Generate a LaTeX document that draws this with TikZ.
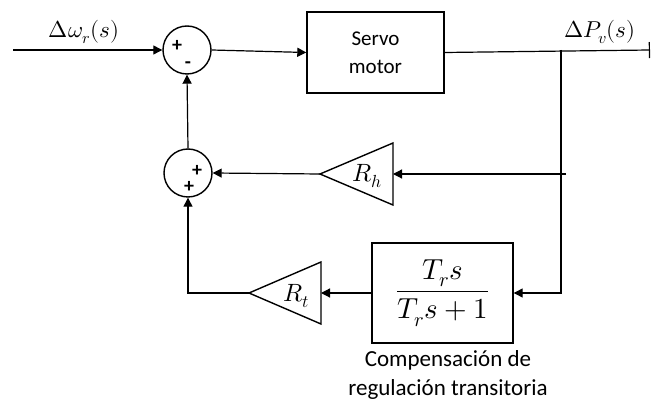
\documentclass[tikz,border=0pt]{standalone}
\usepackage{fontspec}
\usepackage{unicode-math}
\setmainfont{Carlito}
\setmathfont{Latin Modern Math}
\usetikzlibrary{arrows.meta}
\begin{document}
\begin{tikzpicture}[x=1pt,y=-1pt,line width=1.2pt,
  >={Triangle[length=9pt,width=9pt]},
  sumnode/.style={draw,circle,line width=1.4pt,minimum size=48pt,inner sep=0pt},
  blockbox/.style={draw,line width=1.4pt,inner sep=0pt},
  tri/.style={draw,line width=1.4pt,line join=miter},
  sgn/.style={font=\fontsize{20}{20}\selectfont\bfseries,inner sep=0pt},
  lbl/.style={font=\fontsize{23}{26}\selectfont,inner sep=0pt},
  gain/.style={font=\fontsize{25}{28}\selectfont,inner sep=0pt},
  txt/.style={font=\fontsize{21}{28}\selectfont,align=center,inner sep=0pt},
  captxt/.style={font=\fontsize{23}{29}\selectfont,align=center,inner sep=0pt}]
\useasboundingbox (0,0) rectangle (651,403);

% summing junctions
\node[sumnode] (s1) at (187,50) {};
\node[sgn] at (177,46) {+};
\node[sgn] at (188,65) {-};
\node[sumnode] (s2) at (188,173) {};
\node[sgn] at (197,171) {+};
\node[sgn] at (189,187) {+};

% servo motor
\node[blockbox,minimum width=137pt,minimum height=81pt] (servo) at (375.5,52.5) {};
\node[txt] at (servo.center) {Servo\\motor};

% transfer function block
\node[blockbox,minimum width=141pt,minimum height=100pt] (tf) at (442.5,293) {};
\node[font=\fontsize{29}{34}\selectfont,inner sep=0pt] at (tf.center) {$\displaystyle\frac{T_r s}{T_r s+1}$};
\node[captxt] (cap) at (448,375) {Compensación de\\regulación transitoria};

% gain triangles
\coordinate (rhtip) at (320,174);
\coordinate (rhbase) at (393,174);
\draw[tri] (rhtip) -- (393,143) -- (393,205) -- cycle;
\node[gain] (rh) at (367,176) {$R_h$};
\coordinate (rttip) at (249,293);
\coordinate (rtbase) at (321,293);
\draw[tri] (rttip) -- (321,262) -- (321,324) -- cycle;
\node[gain] (rt) at (296,296) {$R_t$};

% signals
\coordinate (in) at (13,50);
\coordinate (br) at (561,50);
\coordinate (brm) at (561,174);
\coordinate (brmr) at (566,174);
\coordinate (out) at (650,50);
\node[lbl] (win) at (84,32) {$\Delta\omega_r(s)$};
\node[lbl] (pv) at (600,32) {$\Delta P_v(s)$};

\draw[->] (in) -- (s1.west);
\draw[->] (s1.east) -- (servo.west);
\draw[-{Bar[width=16pt]}] (servo.east) -- (out);
\draw (br) -- (brm);
\draw[->] (brm) |- (tf.east);
\draw[->] (brmr) -- (rhbase);
\draw[->] (rhtip) -- (s2.east);
\draw[->] (s2.north) -- (s1.south);
\draw[->] (tf.west) -- (rtbase);
\draw[->] (rttip) -| (s2.south);
\end{tikzpicture}
\end{document}
